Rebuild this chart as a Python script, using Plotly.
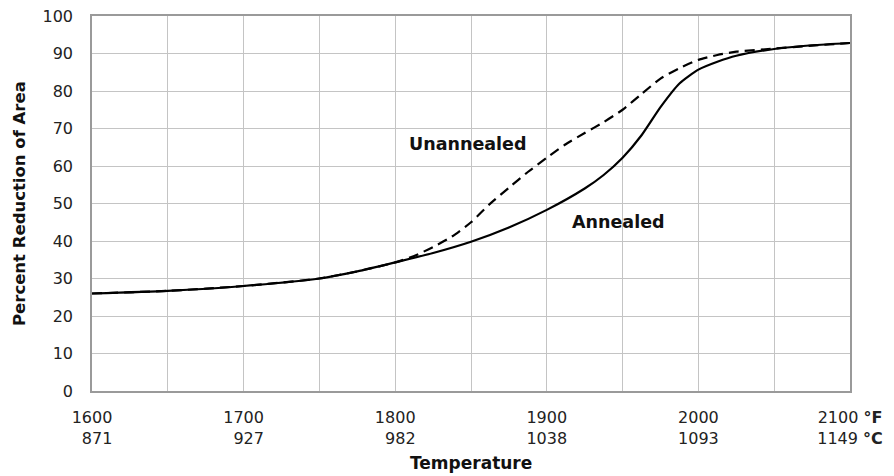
import plotly.graph_objects as go

# Data
temp_f_ticks = [1600, 1700, 1800, 1900, 2000, 2100]
temp_c_ticks = ["871", "927", "982", "1038", "1093", "1149"]

annealed_x = [1600, 1650, 1700, 1750, 1775, 1800, 1825, 1850, 1875, 1900, 1925, 1937.5,
              1950, 1962.5, 1975, 1987.5, 2000, 2012.5, 2025, 2050, 2075, 2100]
annealed_y = [26.0, 26.7, 28.0, 30.0, 31.9, 34.3, 36.8, 39.8, 43.6, 48.3, 54.0, 57.6,
              62.2, 68.2, 75.7, 82.0, 85.7, 87.8, 89.4, 91.2, 92.2, 92.8]

unannealed_x = [1600, 1650, 1700, 1750, 1775, 1800, 1812.5, 1825, 1837.5, 1850, 1862.5, 1875,
                1887.5, 1900, 1912.5, 1925, 1937.5, 1950, 1962.5, 1975, 1987.5, 2000,
                2012.5, 2025, 2050, 2075, 2100]
unannealed_y = [26.0, 26.7, 28.0, 30.0, 31.9, 34.3, 36.0, 38.4, 41.2, 45.0, 49.9, 54.2,
                58.4, 62.2, 65.8, 68.8, 71.7, 75.0, 79.2, 83.3, 86.1, 88.3,
                89.6, 90.5, 91.3, 92.1, 92.8]

label_unannealed = ("Unannealed", 1848, 66)
label_annealed = ("Annealed", 1947, 45.2)
x_title = "Temperature"
y_title = "Percent Reduction of Area"

FONT = "DejaVu Sans"
LINE = dict(color="black", width=2.2, shape="spline", smoothing=0.6)

fig = go.Figure()
fig.add_trace(go.Scatter(
    x=unannealed_x, y=unannealed_y, mode="lines",
    line=dict(LINE, dash="10px,6px"),
    hoverinfo="skip", showlegend=False))
fig.add_trace(go.Scatter(
    x=annealed_x, y=annealed_y, mode="lines",
    line=LINE,
    hoverinfo="skip", showlegend=False))

ticktext = []
for i, (f, c) in enumerate(zip(temp_f_ticks, temp_c_ticks)):
    if i == len(temp_f_ticks) - 1:
        ticktext.append(f"{f} <b>°F</b><br>{c} <b>°C</b>")
    else:
        pad = "\u2007" * (len(str(f)) - len(c))
        ticktext.append(f"{f}<br>{pad}{c}")

for text, x, y in [label_unannealed, label_annealed]:
    fig.add_annotation(x=x, y=y, text=f"<b>{text}</b>", showarrow=False,
                       font=dict(family=FONT, size=17.5, color="#111"))

# axis titles
fig.add_annotation(xref="paper", yref="paper", x=0.5, y=-0.193, yanchor="middle",
                   text=f"<b>{x_title}</b>", showarrow=False,
                   font=dict(family=FONT, size=17, color="#111"))
fig.add_annotation(xref="paper", yref="paper", x=-0.0956, y=0.5, xanchor="center",
                   text=f"<b>{y_title}</b>", showarrow=False, textangle=-90,
                   font=dict(family=FONT, size=16.5, color="#111"))

fig.update_xaxes(
    range=[1600, 2100], tickvals=temp_f_ticks, ticktext=ticktext,
    showgrid=True, gridcolor="#c4c4c4", gridwidth=1,
    minor=dict(showgrid=True, gridcolor="#c4c4c4", dtick=50, tick0=1600),
    showline=True, linecolor="#9a9a9a", linewidth=1.5, mirror=True,
    ticks="", ticklabelstandoff=11, zeroline=False, automargin=False,
    tickfont=dict(family=FONT, size=16, color="#222"),
)
fig.update_yaxes(
    range=[0, 100], dtick=10, tick0=0,
    showgrid=True, gridcolor="#c4c4c4", gridwidth=1,
    showline=True, linecolor="#9a9a9a", linewidth=1.5, mirror=True,
    ticks="", ticklabelstandoff=14, zeroline=False, automargin=False,
    tickfont=dict(family=FONT, size=16, color="#222"),
)
fig.update_layout(
    width=894, height=476,
    margin=dict(l=92, r=44, t=16, b=85),
    plot_bgcolor="white", paper_bgcolor="white",
)
fig.write_html("out.html", config={"displayModeBar": False},
               post_script="document.body.style.margin='0';")
